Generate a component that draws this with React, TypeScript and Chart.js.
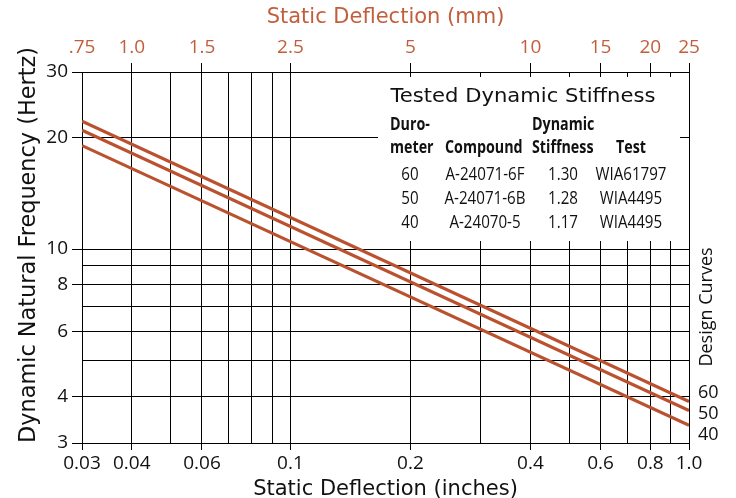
import { useEffect, useRef } from 'react';
import { Chart, registerables } from 'chart.js';

Chart.register(...registerables);

// ---- Data ----
const deflectionInches = [0.03, 1.0];
const freqDuro60 = [22.1, 3.88];
const freqDuro50 = [20.9, 3.67];
const freqDuro40 = [19.0, 3.35];
const seriesNames = ['60', '50', '40'];

const xGridInches = [0.03, 0.04, 0.05, 0.06, 0.07, 0.08, 0.09, 0.1, 0.2, 0.3, 0.4, 0.5, 0.6, 0.7, 0.8, 0.9, 1.0];
const xTickLabels = ['0.03', '0.04', '', '0.06', '', '', '', '0.1', '0.2', '', '0.4', '', '0.6', '', '0.8', '', '1.0'];

const topTickInches = [0.03, 0.04, 0.06, 0.1, 0.2, 0.4, 0.6, 0.8, 1.0];
const topTickLabels = ['.75', '1.0', '1.5', '2.5', '5', '10', '15', '20', '25'];

const yGridHz = [3, 4, 5, 6, 7, 8, 9, 10, 20, 30];
const yTickLabels = ['3', '4', '', '6', '', '8', '', '10', '20', '30'];
const yTitle = 'Dynamic Natural Frequency (Hertz)';

const tableTitle = 'Tested Dynamic Stiffness';
const durometers = ['60', '50', '40'];
const compounds = ['A-24071-6F', 'A-24071-6B', 'A-24070-5'];
const dynStiffness = ['1.30', '1.28', '1.17'];
const tests = ['WIA61797', 'WIA4495', 'WIA4495'];

const LINE = '#BA5230';
const ORANGE_TEXT = '#C25E3C';
const INK = '#111111';
const FONT = '"Open Sans", "Noto Sans", sans-serif';
const WIDE = '"DejaVu Sans", "Open Sans", sans-serif';

const overlayPlugin = {
  id: 'overlay',
  beforeDatasetsDraw(chart: any) {
    const c: CanvasRenderingContext2D = chart.ctx;
    c.save();
    // white table box covering the grid
    c.fillStyle = '#ffffff';
    c.fillRect(378, 77, 302, 164);

    c.fillStyle = INK;
    c.textBaseline = 'middle';
    c.font = `20px ${WIDE}`;
    c.textAlign = 'center';
    const tw = c.measureText(tableTitle).width;
    const s = 265 / tw;
    c.save();
    c.translate(523, 97);
    c.scale(s, 1);
    c.fillText(tableTitle, 0, 0);
    c.restore();

    const sx = 0.84;
    const draw = (t: string, x: number, y: number, align: CanvasTextAlign) => {
      c.save();
      c.translate(x, y);
      c.scale(sx, 1);
      c.textAlign = align;
      c.fillText(t, 0, 0);
      c.restore();
    };
    c.font = `bold 17px ${FONT}`;
    draw('Duro-', 390, 125, 'left');
    draw('meter', 390, 148, 'left');
    draw('Compound', 445, 148, 'left');
    draw('Dynamic', 532, 125, 'left');
    draw('Stiffness', 532, 148, 'left');
    draw('Test', 616, 148, 'left');

    c.font = `18px ${FONT}`;
    const rowY = [175, 199, 223];
    for (let i = 0; i < durometers.length; i++) {
      draw(durometers[i], 410, rowY[i], 'center');
      draw(compounds[i], 485, rowY[i], 'center');
      draw(dynStiffness[i], 563, rowY[i], 'center');
      draw(tests[i], 631, rowY[i], 'center');
    }
    c.restore();
  },
  afterDraw(chart: any) {
    const c: CanvasRenderingContext2D = chart.ctx;
    c.save();
    c.fillStyle = INK;
    c.font = `18px ${FONT}`;
    c.textAlign = 'left';
    c.textBaseline = 'middle';
    const labelY = [393, 414, 435];
    seriesNames.forEach((n, i) => c.fillText(n, 698, labelY[i]));

    c.save();
    c.translate(707, 307);
    c.rotate(-Math.PI / 2);
    c.textAlign = 'center';
    c.font = `18px ${FONT}`;
    c.fillText('Design Curves', 0, 0);
    c.restore();

    // y-axis title, sized to span the same length as the reference
    c.font = `21px ${WIDE}`;
    const w = c.measureText(yTitle).width;
    const size = (21 * 396) / w;
    c.font = `${size.toFixed(2)}px ${WIDE}`;
    c.translate(29, 245);
    c.rotate(-Math.PI / 2);
    c.textAlign = 'center';
    c.fillText(yTitle, 0, 0);
    c.restore();
  },
};

export default function App() {
  const ref = useRef<HTMLCanvasElement>(null);
  useEffect(() => {
    document.body.style.margin = '0';
    const canvas = ref.current!;
    const mk = (ys: number[]) => deflectionInches.map((x, i) => ({ x, y: ys[i] }));
    const seriesData = [freqDuro60, freqDuro50, freqDuro40];
    const tickFont = { family: FONT, size: 19 };
    const chart = new Chart(canvas, {
      type: 'line',
      data: {
        datasets: seriesNames.map((n, i) => ({
          label: n,
          data: mk(seriesData[i]),
          borderColor: LINE,
          borderWidth: 3.2,
          pointRadius: 0,
          fill: false,
          tension: 0,
        })),
      },
      plugins: [overlayPlugin],
      options: {
        animation: false,
        responsive: false,
        devicePixelRatio: 1,
        layout: { padding: { left: 0, right: 47, top: 0, bottom: 0 } },
        plugins: { legend: { display: false }, tooltip: { enabled: false } },
        scales: {
          x: {
            type: 'logarithmic',
            position: 'bottom',
            min: 0.03,
            max: 1.0,
            afterBuildTicks: (s: any) => {
              s.ticks = xGridInches.map((v) => ({ value: v }));
            },
            afterFit: (s: any) => {
              s.height = 55;
            },
            ticks: {
              autoSkip: false,
              maxRotation: 0,
              padding: 2,
              color: INK,
              font: tickFont,
              callback: (_v: any, i: number) => xTickLabels[i],
            },
            grid: {
              color: '#000',
              lineWidth: 1,
              tickLength: 7,
              tickColor: (ctx: any) => (xTickLabels[ctx.index] ? '#000' : 'rgba(0,0,0,0)'),
            },
            border: { color: '#000' },
            title: {
              display: true,
              text: 'Static Deflection (inches)',
              color: INK,
              font: { family: WIDE, size: 21 },
              padding: { top: 0, bottom: -4 },
            },
          },
          x2: {
            type: 'logarithmic',
            position: 'top',
            min: 0.03,
            max: 1.0,
            afterBuildTicks: (s: any) => {
              s.ticks = topTickInches.map((v) => ({ value: v }));
            },
            afterFit: (s: any) => {
              s.height = 72;
            },
            ticks: {
              autoSkip: false,
              maxRotation: 0,
              padding: 4,
              color: ORANGE_TEXT,
              font: tickFont,
              callback: (_v: any, i: number) => topTickLabels[i],
            },
            grid: {
              drawOnChartArea: false,
              color: '#000',
              tickLength: 9,
              tickColor: (ctx: any) => (ctx.index === 0 ? 'rgba(0,0,0,0)' : '#000'),
            },
            border: { color: '#000' },
            title: {
              display: true,
              text: 'Static Deflection (mm)',
              color: ORANGE_TEXT,
              font: { family: WIDE, size: 21 },
              padding: { top: 5, bottom: 0 },
            },
          },
          y: {
            type: 'logarithmic',
            position: 'left',
            min: 3,
            max: 30,
            afterBuildTicks: (s: any) => {
              s.ticks = yGridHz.map((v) => ({ value: v }));
            },
            afterFit: (s: any) => {
              s.width = 82;
            },
            ticks: {
              autoSkip: false,
              padding: 4,
              color: INK,
              font: tickFont,
              callback: (_v: any, i: number) => yTickLabels[i],
            },
            grid: {
              color: '#000',
              lineWidth: 1,
              tickLength: 10,
              tickColor: (ctx: any) => (yTickLabels[ctx.index] ? '#000' : 'rgba(0,0,0,0)'),
            },
            border: { color: '#000' },
            title: { display: false },
          },
        },
      } as any,
    });
    return () => chart.destroy();
  }, []);
  return <canvas ref={ref} width={736} height={498} style={{ display: 'block', width: 736, height: 498 }} />;
}
